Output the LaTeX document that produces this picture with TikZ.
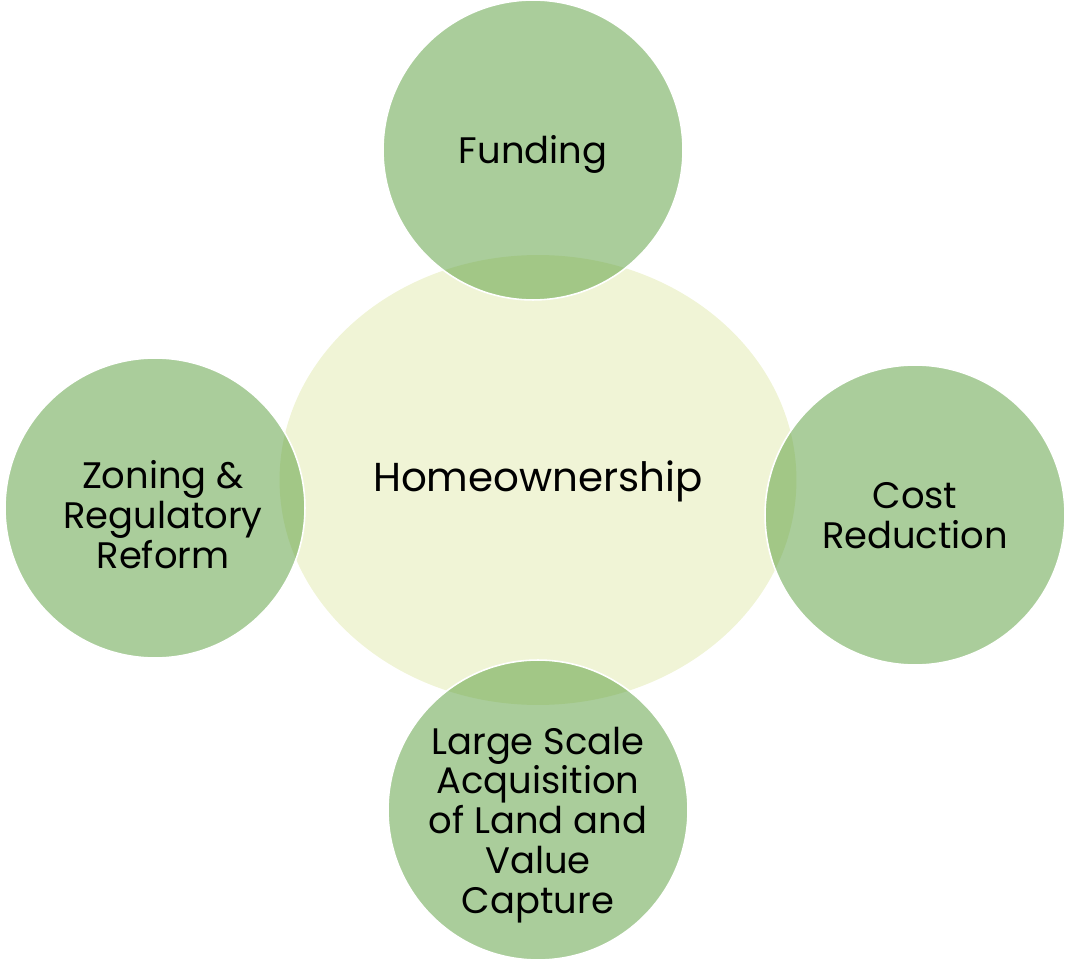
\documentclass[tikz,border=0pt]{standalone}
\usepackage{fontspec}
\setmainfont{Poppins}
\usepackage{tikz}
\usetikzlibrary{shapes.geometric}

\definecolor{hubfill}{RGB}{240,244,214}
\definecolor{leafgreen}{RGB}{85,155,55}

\begin{document}
\begin{tikzpicture}[x=0.02cm,y=-0.02cm,
  hub/.style={ellipse,fill=hubfill,minimum width=10.34cm,minimum height=9cm},
  leaf/.style={circle,draw=white,line width=0.9pt,fill=leafgreen,fill opacity=0.5,minimum size=6cm},
  leaftext/.style={align=center,font=\fontsize{21}{22.7}\selectfont}
]
  \useasboundingbox (0,0) rectangle (1065,962);

  \node[hub] (home) at (538,480) {};
  \node[font=\fontsize{23}{26}\selectfont] (hometext) at (538,481) {Homeownership};

  % circles round the hub
  \node[leaf] (fund) at (533,150) {};
  \node[leaf] (cost) at (915,515) {};
  \node[leaf] (zone) at (155,508) {};
  \node[leaf] (land) at (538,810) {};

  \node[leaftext] (fundtext) at (533,154) {Funding};
  \node[leaftext] (costtext) at (915,516) {Cost\\Reduction};
  \node[leaftext] (zonetext) at (163,515) {Zoning \&\\Regulatory\\Reform};
  \node[leaftext] (landtext) at (538,825) {Large Scale\\Acquisition\\of Land and\\Value\\Capture};
\end{tikzpicture}
\end{document}
